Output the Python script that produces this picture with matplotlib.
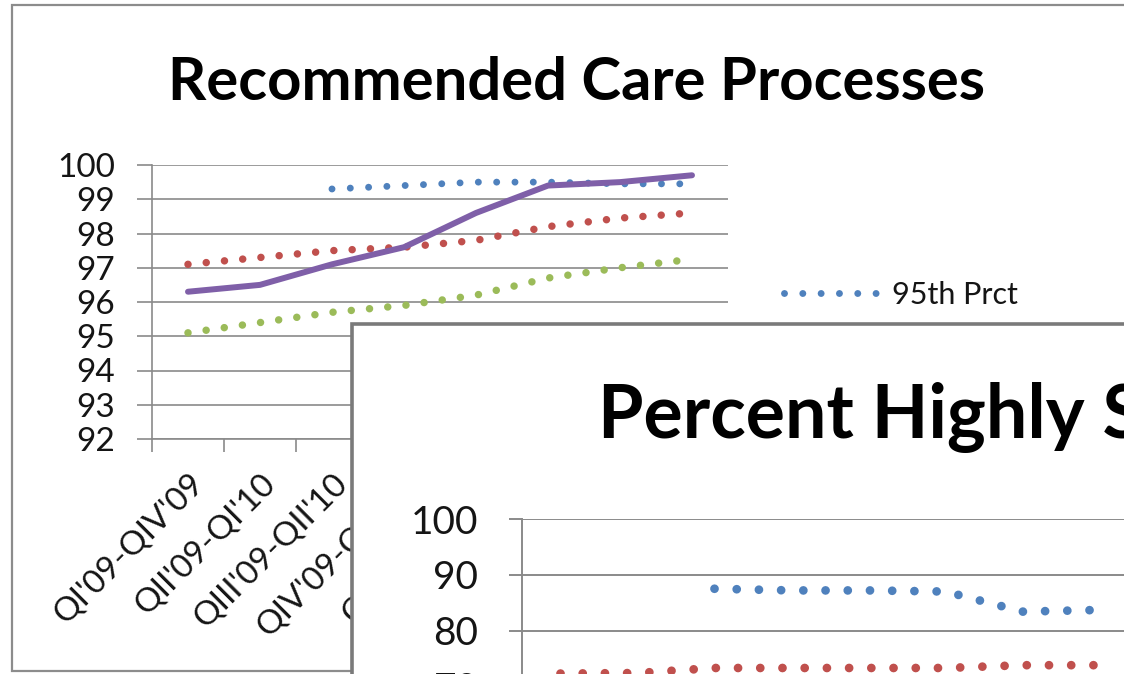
import numpy as np
import matplotlib
matplotlib.use("Agg")
import matplotlib.pyplot as plt
from matplotlib.patches import Rectangle

plt.rcParams['font.family'] = ['Lato', 'DejaVu Sans']
plt.rcParams['lines.scale_dashes'] = False

# Recommended care processes (rolling four quarters)
periods = ["QI'09-QIV'09", "QII'09-QI'10", "QIII'09-QII'10", "QIV'09-QIII'10",
           "QI'10-QIV'10", "QII'10-QI'11", "QIII'10-QII'11", "QIV'10-QIII'11"]
care_clinic = [96.3, 96.5, 97.1, 97.6, 98.6, 99.4, 99.5, 99.7]
care_p95 = [np.nan, np.nan, 99.3, 99.4, 99.5, 99.5, 99.45, 99.45]
care_p75 = [97.1, 97.3, 97.5, 97.6, 97.8, 98.2, 98.45, 98.6]
care_p50 = [95.1, 95.4, 95.7, 95.9, 96.2, 96.7, 97.0, 97.25]
care_ticks = list(range(92, 101))

# Percent highly satisfied
sat_p95 = [np.nan, np.nan, 87.5, 87.2, 87.2, 87.0, 83.4, 83.7]
sat_p75 = [72.3, 72.4, 73.3, 73.3, 73.3, 73.3, 73.8, 73.8]
sat_ticks = [0, 10, 20, 30, 40, 50, 60, 70, 80, 90, 100]

BLUE = '#4f81bd'
RED = '#c0504d'
GREEN = '#9bbb59'
PURPLE = '#7f5fa8'
GRID = '#8a8a8a'
TXT = '#151515'

W, H = 1124, 674


def box(x0, y0, x1, y1):
    # pixel box (top-left origin) -> figure fraction rect
    return [x0 / W, 1 - y1 / H, (x1 - x0) / W, (y1 - y0) / H]


def dotted(period_px):
    return (0, (0.01, period_px * 0.72))


fig = plt.figure(figsize=(W / 100, H / 100), dpi=100)

# back chart frame
fig.add_artist(Rectangle((12 / W, 1 - 671 / H), (1140 - 12) / W, (671 - 5) / H,
                         transform=fig.transFigure, facecolor='white',
                         edgecolor='#8c8c8c', linewidth=1.6, zorder=0.5))
fig.text(576 / W, 1 - 100 / H, "Recommended Care Processes", ha='center',
         va='baseline', fontsize=43, fontweight='bold', color='black', zorder=0.6)

ax1 = fig.add_axes(box(152, 165, 728, 439), zorder=1)
ax1.set_facecolor('none')
x = np.arange(len(periods))
ax1.plot(x, care_clinic, color=PURPLE, lw=4.3, solid_capstyle='round', zorder=3)
ax1.plot(x, care_p95, color=BLUE, lw=5.0, ls=dotted(18.3), dash_capstyle='round',
         label="95th Prct", zorder=2)
ax1.plot(x, care_p75, color=RED, lw=5.4, ls=dotted(18.3), dash_capstyle='round', zorder=2)
ax1.plot(x, care_p50, color=GREEN, lw=5.4, ls=dotted(18.3), dash_capstyle='round', zorder=2)

ax1.set_xlim(-0.5, len(periods) - 0.5)
ax1.set_ylim(92, 100)
ax1.set_yticks(care_ticks)
ax1.yaxis.grid(True, color=GRID, lw=1.2)
ax1.set_axisbelow(True)
ax1.tick_params(axis='y', length=10.8, width=1.2, color=GRID, pad=16,
                labelsize=24, labelcolor=TXT)
ax1.set_xticks(x)
ax1.set_xticklabels(periods, rotation=45, ha='right', va='top',
                    rotation_mode='anchor', fontsize=24, color=TXT)
ax1.tick_params(axis='x', which='major', length=0, pad=21)
ax1.set_xticks(np.arange(-0.5, len(periods)), minor=True)
ax1.tick_params(axis='x', which='minor', length=9.4, width=1.2, color=GRID)
for s in ['top', 'right']:
    ax1.spines[s].set_visible(False)
for s in ['left', 'bottom']:
    ax1.spines[s].set_color(GRID)
    ax1.spines[s].set_linewidth(1.2)

leg = ax1.legend(loc='center left', bbox_to_anchor=(784 / W, 1 - 295 / H),
                 bbox_transform=fig.transFigure, frameon=False, fontsize=22,
                 handlelength=3.2, handletextpad=0.35, borderpad=0, borderaxespad=0)
for t in leg.get_texts():
    t.set_color(TXT)

# front chart frame
fig.add_artist(Rectangle((352 / W, -0.1), 1.2, 1 - 324 / H + 0.1,
                         transform=fig.transFigure, facecolor='white',
                         edgecolor='#7a7a7a', linewidth=2.6, zorder=2))
fig.text(598 / W, 1 - 438 / H, "Percent Highly Satisfied", ha='left',
         va='baseline', fontsize=53, fontweight='bold', color='black', zorder=2.5)

ax2 = fig.add_axes(box(522, 519, 1138, 1077), zorder=3)
ax2.set_facecolor('none')
x2 = np.arange(len(sat_p75))
ax2.plot(x2, sat_p95, color=BLUE, lw=6.3, ls=dotted(22.2), dash_capstyle='round')
ax2.plot(x2, sat_p75, color=RED, lw=6.3, ls=dotted(22.2), dash_capstyle='round')
ax2.set_xlim(-0.5, len(x2) - 0.5)
ax2.set_ylim(0, 100)
ax2.set_yticks(sat_ticks)
ax2.yaxis.grid(True, color=GRID, lw=1.4)
ax2.set_axisbelow(True)
ax2.tick_params(axis='y', length=9.4, width=1.4, color=GRID, pad=22,
                labelsize=28, labelcolor=TXT)
ax2.set_xticks([])
for s in ['top', 'right', 'bottom']:
    ax2.spines[s].set_visible(False)
ax2.spines['left'].set_color(GRID)
ax2.spines['left'].set_linewidth(1.4)

fig.savefig('out.png', dpi=100)
